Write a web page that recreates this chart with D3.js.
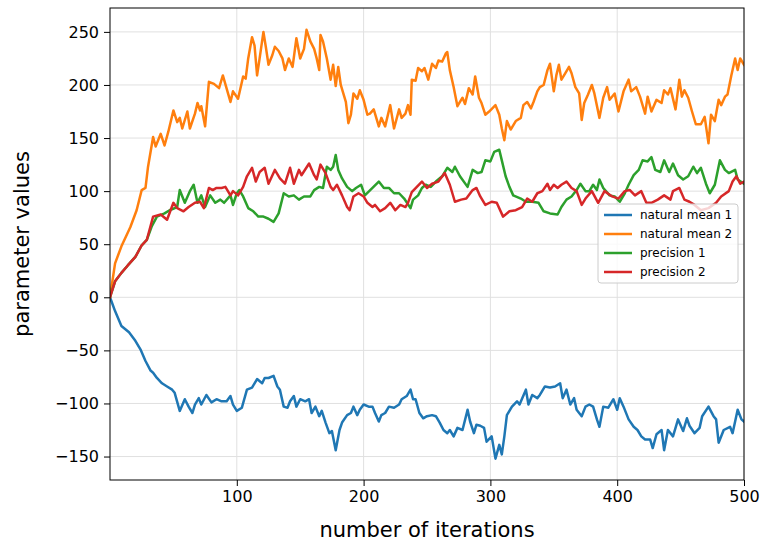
<!DOCTYPE html>
<html>
<head>
<meta charset="utf-8">
<script src="https://cdn.jsdelivr.net/npm/d3@7"></script>
<style>
  html, body { margin: 0; padding: 0; background: #fff; }
  svg { display: block; font-family: "DejaVu Sans", sans-serif; }
</style>
</head>
<body>
<svg id="chart" width="766" height="548"></svg>
<script>
// Parameter traces over the optimisation run (iteration, value) per series.
const seriesNames = ["natural mean 1", "natural mean 2", "precision 1", "precision 2"];
const seriesColors = ["#1f77b4", "#ff7f0e", "#2ca02c", "#d62728"];

const meanOneIter = [0,4,9,15,20,24,28,32,34,37,41,45,49,51,55,59,62,65,67,70,72,76,80,84,88,92,95,97,100,104,108,112,116,120,122,125,129,132,134,137,140,142,145,147,150,154,157,159,162,165,167,170,173,175,178,181,183,187,190,192,195,197,200,204,207,209,212,214,217,220,224,228,230,234,237,239,241,244,247,250,254,257,260,263,266,268,271,274,278,282,284,287,289,292,295,297,301,304,307,309,311,313,317,321,323,328,330,333,337,339,343,347,351,355,357,360,363,366,368,372,375,378,381,384,386,389,393,397,400,402,405,409,413,416,419,422,426,428,431,435,437,440,444,448,452,455,457,461,465,467,472,476,478,480,484,489,491,495,498,500];
const meanOneVals = [0,-13,-27,-33,-41,-49,-60,-69,-71,-76,-81,-84,-87,-90,-107,-96,-103,-109,-101,-95,-101,-92,-99,-96,-98,-98,-93,-101,-107,-104,-87,-85,-77,-81,-76,-76,-74,-84,-87,-103,-104,-98,-93,-103,-96,-98,-96,-109,-103,-112,-107,-118,-128,-126,-144,-125,-118,-111,-109,-103,-111,-106,-101,-103,-103,-109,-117,-111,-109,-103,-104,-101,-96,-93,-87,-96,-96,-109,-114,-112,-111,-112,-118,-125,-128,-125,-131,-123,-125,-106,-117,-128,-120,-121,-123,-136,-131,-152,-139,-148,-131,-111,-103,-98,-101,-87,-101,-92,-95,-92,-84,-85,-84,-81,-95,-87,-101,-95,-106,-112,-103,-101,-103,-115,-122,-103,-104,-96,-106,-95,-103,-115,-122,-125,-131,-134,-134,-142,-129,-125,-144,-125,-131,-115,-126,-114,-121,-128,-123,-112,-103,-112,-115,-137,-125,-122,-128,-106,-115,-117];

const meanTwoIter = [0,4,9,16,21,25,28,30,34,36,40,43,46,50,53,55,57,61,63,67,69,71,72,75,78,82,86,89,95,97,101,105,107,109,112,114,116,118,121,123,125,128,130,133,136,138,141,144,147,150,153,155,158,161,163,165,166,168,171,174,176,178,180,182,186,188,190,192,195,197,200,203,205,208,212,214,217,221,224,228,230,233,235,237,238,241,243,246,248,251,254,257,259,262,265,266,268,271,274,278,280,283,286,288,291,293,296,299,304,307,309,311,313,316,320,324,326,329,332,334,337,339,342,345,347,350,352,354,356,359,362,364,367,370,371,372,374,377,380,382,386,389,392,394,398,401,405,409,411,415,418,422,424,427,431,435,437,440,442,446,449,451,453,456,459,462,466,469,472,474,477,480,482,485,487,490,493,495,497,500];
const meanTwoVals = [0,32,48,66,82,101,103,123,151,142,154,143,156,176,165,169,159,175,159,173,183,176,180,161,203,201,197,209,184,194,187,208,206,225,245,237,209,225,250,235,219,228,236,232,225,214,225,217,244,225,234,252,241,234,225,214,247,241,225,205,219,199,217,200,184,164,172,192,187,195,186,172,173,177,161,169,161,181,159,177,169,173,181,172,205,204,216,213,216,205,220,216,223,222,230,231,214,198,180,188,182,197,191,208,188,183,172,175,181,172,159,148,166,158,166,169,181,184,178,184,194,198,200,214,220,194,209,219,205,211,217,211,198,192,180,167,183,191,200,192,169,188,198,186,192,175,194,205,194,198,189,173,189,175,186,183,195,191,197,177,205,189,195,188,175,163,163,170,145,172,166,186,181,189,191,209,225,214,225,219];

const precOneIter = [0,4,9,14,20,25,29,33,37,43,47,53,55,59,63,66,69,72,75,79,83,87,90,95,97,100,102,105,109,113,117,121,125,129,133,137,141,145,149,153,158,161,165,168,171,174,176,178,180,183,187,191,194,198,201,207,212,216,220,224,228,232,237,239,243,246,249,253,257,262,266,270,272,276,282,286,290,293,296,300,303,307,309,312,315,318,324,328,333,338,342,347,353,356,360,364,368,371,375,378,381,384,386,389,394,398,402,406,409,413,417,420,424,427,430,434,437,441,444,448,452,456,460,463,466,470,473,477,481,485,488,493,495,500];
const precOneVals = [0,15,23,30,38,49,54,67,76,79,82,85,101,89,100,106,89,96,85,96,89,92,89,96,87,98,101,95,84,81,76,76,74,71,79,98,95,96,92,95,95,101,104,103,123,120,123,134,120,112,104,100,103,106,96,103,109,103,103,98,98,93,84,92,96,103,106,104,109,114,122,118,123,114,104,120,117,118,129,128,137,139,129,114,104,96,93,90,90,89,81,79,78,85,92,95,101,107,100,100,106,101,111,103,96,95,90,98,106,115,120,129,128,132,120,118,129,118,126,115,111,114,123,117,122,107,98,106,129,120,117,120,111,107];

const precTwoIter = [0,4,9,14,20,25,29,34,40,45,50,53,58,62,67,71,74,78,81,84,88,91,95,97,101,105,108,112,115,118,122,125,130,134,138,142,145,149,151,157,161,163,166,170,174,176,179,183,187,189,192,196,200,203,207,209,213,217,221,225,229,233,235,238,242,246,250,254,259,264,268,272,277,281,286,289,292,296,301,305,310,315,320,325,329,333,337,341,345,347,350,353,356,360,364,368,372,375,380,385,390,396,401,406,410,414,419,423,427,432,437,442,444,449,453,457,461,466,472,478,482,488,491,494,497,500];
const precTwoVals = [0,15,23,30,38,49,54,76,78,73,89,84,81,85,89,90,84,103,101,103,103,104,96,100,96,104,114,122,109,118,122,107,120,112,107,122,107,120,115,126,115,111,125,117,104,101,106,96,85,82,95,98,95,89,85,87,81,84,89,82,87,85,89,99,104,109,103,107,109,117,106,90,92,93,101,103,95,87,90,89,76,81,82,85,93,90,98,100,107,101,106,103,106,109,103,100,87,93,100,89,100,95,93,100,101,96,100,89,89,92,96,92,100,103,92,90,87,82,84,89,95,100,109,114,107,109];

const xTicks = [100, 200, 300, 400, 500];
const yTicks = [-150, -100, -50, 0, 50, 100, 150, 200, 250];

const seriesIters = [meanOneIter, meanTwoIter, precOneIter, precTwoIter];
const seriesVals = [meanOneVals, meanTwoVals, precOneVals, precTwoVals];

// Plot frame
const plot = { left: 110, right: 744, top: 8, bottom: 480 };

const svg = d3.select("#chart");

const x = d3.scaleLinear().domain([0, 500]).range([plot.left, plot.right]);
const y = d3.scaleLinear().domain([-172.1, 272.5]).range([plot.bottom, plot.top]);

// Grid lines
const grid = svg.append("g").attr("class", "grid");
grid.selectAll("line.gx").data(xTicks).join("line")
  .attr("x1", d => x(d)).attr("x2", d => x(d))
  .attr("y1", plot.top).attr("y2", plot.bottom)
  .attr("stroke", "#e0e0e0").attr("stroke-width", 1);
grid.selectAll("line.gy").data(yTicks).join("line")
  .attr("x1", plot.left).attr("x2", plot.right)
  .attr("y1", d => y(d)).attr("y2", d => y(d))
  .attr("stroke", "#e0e0e0").attr("stroke-width", 1);

// Series lines
svg.append("clipPath").attr("id", "plotClip")
  .append("rect")
  .attr("x", plot.left).attr("y", plot.top)
  .attr("width", plot.right - plot.left).attr("height", plot.bottom - plot.top);

const line = d3.line().x(d => x(d[0])).y(d => y(d[1]));
const lines = svg.append("g").attr("clip-path", "url(#plotClip)");
seriesNames.forEach((name, k) => {
  const pts = seriesIters[k].map((it, j) => [it, seriesVals[k][j]]);
  lines.append("path")
    .datum(pts)
    .attr("d", line)
    .attr("fill", "none")
    .attr("stroke", seriesColors[k])
    .attr("stroke-width", 2.5)
    .attr("stroke-linejoin", "round")
    .attr("stroke-linecap", "square");
});

// Axes
const xAxis = svg.append("g")
  .attr("transform", `translate(0,${plot.bottom})`)
  .call(d3.axisBottom(x).tickValues(xTicks).tickSize(6).tickPadding(5).tickSizeOuter(0));
const yAxis = svg.append("g")
  .attr("transform", `translate(${plot.left},0)`)
  .call(d3.axisLeft(y).tickValues(yTicks).tickSize(6).tickPadding(5).tickSizeOuter(0));
[xAxis, yAxis].forEach(g => {
  g.select(".domain").remove();
  g.selectAll(".tick line").attr("stroke", "#000").attr("stroke-width", 1);
  g.selectAll(".tick text").attr("fill", "#000")
    .style("font-family", "DejaVu Sans").style("font-size", "16px");
});

// Frame
svg.append("rect")
  .attr("x", plot.left).attr("y", plot.top)
  .attr("width", plot.right - plot.left).attr("height", plot.bottom - plot.top)
  .attr("fill", "none").attr("stroke", "#000").attr("stroke-width", 1);

// Axis titles
svg.append("text")
  .attr("x", (plot.left + plot.right) / 2).attr("y", 537)
  .attr("text-anchor", "middle")
  .style("font-size", "21px")
  .text("number of iterations");
svg.append("text")
  .attr("transform", `translate(29,${(plot.top + plot.bottom) / 2}) rotate(-90)`)
  .attr("text-anchor", "middle")
  .style("font-size", "21px")
  .text("parameter values");

// Legend
const legend = svg.append("g").attr("transform", "translate(598,204)");
legend.append("rect")
  .attr("width", 140).attr("height", 79).attr("rx", 3)
  .attr("fill", "#fff").attr("fill-opacity", 0.8)
  .attr("stroke", "#cccccc").attr("stroke-width", 1);
seriesNames.forEach((name, k) => {
  const row = legend.append("g").attr("transform", `translate(0,${11 + k * 19})`);
  row.append("line")
    .attr("x1", 6).attr("x2", 34).attr("y1", 0).attr("y2", 0)
    .attr("stroke", seriesColors[k]).attr("stroke-width", 2.5);
  row.append("text")
    .attr("x", 42).attr("y", 0).attr("dy", "0.35em")
    .style("font-size", "12px")
    .text(name);
});
</script>
</body>
</html>
